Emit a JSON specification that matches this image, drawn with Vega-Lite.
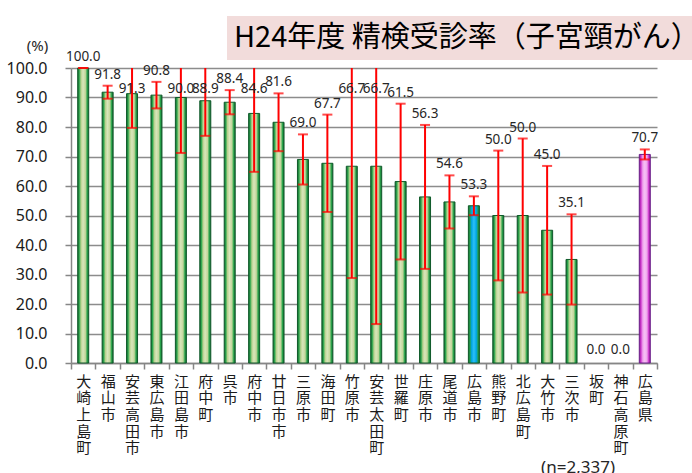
{
  "$schema": "https://vega.github.io/schema/vega-lite/v6.json",
  "autosize": {"type": "none"},
  "padding": {"left": 71, "top": 68, "right": 35, "bottom": 110},
  "width": 586,
  "height": 295,
  "background": "white",
  "title": {
    "text": "(n=2,337)",
    "orient": "bottom",
    "anchor": "end",
    "frame": "group",
    "baseline": "top",
    "offset": 4,
    "dx": -42,
    "font": "Noto Sans",
    "fontSize": 17,
    "fontWeight": "normal",
    "color": "#262626"
  },
  "config": {
    "view": {"stroke": null},
    "font": "Noto Sans",
    "axisY": {
      "tickCount": 10,
      "labelOverlap": false,
      "format": ".1f",
      "titleAngle": 0,
      "titleAlign": "center",
      "titleBaseline": "middle",
      "titleX": -34,
      "titleY": -23,
      "titleFont": "Noto Sans",
      "titleFontSize": 15,
      "titleFontWeight": "normal",
      "titleColor": "#262626",
      "labelFont": "Noto Sans",
      "labelFontSize": 16,
      "labelColor": "#1a1a1a",
      "labelPadding": 18,
      "tickSize": 6,
      "tickColor": "#868686",
      "tickWidth": 1.5,
      "domainColor": "#868686",
      "domainWidth": 1.5,
      "grid": true,
      "gridColor": "#8c8c8c",
      "gridWidth": 1.5
    }
  },
  "data": {
    "values": [
      {"name": "大崎上島町", "value": 100.0, "lo": 100.0, "hi": 100.0, "kind": "市町"},
      {"name": "福山市", "value": 91.8, "lo": 89.6, "hi": 94.0, "kind": "市町"},
      {"name": "安芸高田市", "value": 91.3, "lo": 79.7, "hi": 102.9, "kind": "市町"},
      {"name": "東広島市", "value": 90.8, "lo": 86.3, "hi": 95.3, "kind": "市町"},
      {"name": "江田島市", "value": 90.0, "lo": 71.2, "hi": 108.8, "kind": "市町"},
      {"name": "府中町", "value": 88.9, "lo": 77.0, "hi": 100.8, "kind": "市町"},
      {"name": "呉市", "value": 88.4, "lo": 84.3, "hi": 92.5, "kind": "市町"},
      {"name": "府中市", "value": 84.6, "lo": 64.8, "hi": 104.4, "kind": "市町"},
      {"name": "廿日市市", "value": 81.6, "lo": 71.8, "hi": 91.4, "kind": "市町"},
      {"name": "三原市", "value": 69.0, "lo": 60.5, "hi": 77.5, "kind": "市町"},
      {"name": "海田町", "value": 67.7, "lo": 51.2, "hi": 84.2, "kind": "市町"},
      {"name": "竹原市", "value": 66.7, "lo": 28.8, "hi": 104.6, "kind": "市町"},
      {"name": "安芸太田町", "value": 66.7, "lo": 13.2, "hi": 120.2, "kind": "市町"},
      {"name": "世羅町", "value": 61.5, "lo": 35.1, "hi": 87.9, "kind": "市町"},
      {"name": "庄原市", "value": 56.3, "lo": 31.9, "hi": 80.7, "kind": "市町"},
      {"name": "尾道市", "value": 54.6, "lo": 45.6, "hi": 63.6, "kind": "市町"},
      {"name": "広島市", "value": 53.3, "lo": 50.1, "hi": 56.5, "kind": "広島市"},
      {"name": "熊野町", "value": 50.0, "lo": 28.0, "hi": 72.0, "kind": "市町"},
      {"name": "北広島町", "value": 50.0, "lo": 23.9, "hi": 76.1, "kind": "市町"},
      {"name": "大竹市", "value": 45.0, "lo": 23.2, "hi": 66.8, "kind": "市町"},
      {"name": "三次市", "value": 35.1, "lo": 19.8, "hi": 50.4, "kind": "市町"},
      {"name": "坂町", "value": 0.0, "lo": null, "hi": null, "kind": "市町"},
      {"name": "神石高原町", "value": 0.0, "lo": null, "hi": null, "kind": "市町"},
      {"name": "広島県", "value": 70.7, "lo": 69.0, "hi": 72.4, "kind": "広島県"}
    ]
  },
  "encoding": {
    "x": {
      "field": "name",
      "type": "nominal",
      "sort": null,
      "scale": {"paddingInner": 0, "paddingOuter": 0},
      "axis": {
        "title": null,
        "labelAngle": 0,
        "labelAlign": "center",
        "labelBaseline": "top",
        "labelExpr": "split(datum.label, '')",
        "labelFont": "Noto Sans CJK JP",
        "labelFontSize": 15,
        "labelLineHeight": 16.7,
        "labelColor": "#1a1a1a",
        "labelPadding": 5,
        "labelLimit": 0,
        "labelOverlap": false,
        "labelFlush": false,
        "tickBand": "extent",
        "tickSize": 6,
        "tickColor": "#868686",
        "tickWidth": 1.5,
        "domainColor": "#868686",
        "domainWidth": 1.5,
        "grid": false
      }
    }
  },
  "layer": [
    {
      "mark": {"type": "bar", "width": 11, "strokeWidth": 1},
      "encoding": {
        "y": {
          "field": "value",
          "type": "quantitative",
          "scale": {"domain": [0, 100], "nice": false, "clamp": true},
          "axis": {"title": "(%)"}
        },
        "fill": {
          "condition": [
            {
              "test": "datum.kind === '広島市'",
              "value": {
                "gradient": "linear", "x1": 0, "x2": 1, "y1": 0, "y2": 0,
                "stops": [
                  {"offset": 0, "color": "#145c2c"},
                  {"offset": 0.14, "color": "#23a04a"},
                  {"offset": 0.3, "color": "#00a6e8"},
                  {"offset": 0.5, "color": "#2ec0f4"},
                  {"offset": 0.72, "color": "#00a6e8"},
                  {"offset": 0.88, "color": "#23a04a"},
                  {"offset": 1, "color": "#145c2c"}
                ]
              }
            },
            {
              "test": "datum.kind === '広島県'",
              "value": {
                "gradient": "linear", "x1": 0, "x2": 1, "y1": 0, "y2": 0,
                "stops": [
                  {"offset": 0, "color": "#8a1a8a"},
                  {"offset": 0.14, "color": "#cc33cc"},
                  {"offset": 0.32, "color": "#f0a4ee"},
                  {"offset": 0.5, "color": "#f6c2f4"},
                  {"offset": 0.7, "color": "#f0a4ee"},
                  {"offset": 0.86, "color": "#cc33cc"},
                  {"offset": 1, "color": "#8a1a8a"}
                ]
              }
            }
          ],
          "value": {
            "gradient": "linear", "x1": 0, "x2": 1, "y1": 0, "y2": 0,
            "stops": [
              {"offset": 0, "color": "#145c2c"},
              {"offset": 0.14, "color": "#2aa64c"},
              {"offset": 0.3, "color": "#b9d28f"},
              {"offset": 0.48, "color": "#d8e6bb"},
              {"offset": 0.7, "color": "#c3d69b"},
              {"offset": 0.86, "color": "#2aa64c"},
              {"offset": 1, "color": "#145c2c"}
            ]
          }
        },
        "stroke": {
          "condition": {"test": "datum.kind === '広島県'", "value": "#6a1f8a"},
          "value": "#0f5a2a"
        },
        "strokeOpacity": {
          "condition": {"test": "datum.value == 0", "value": 0},
          "value": 1
        }
      }
    },
    {
      "mark": {"type": "rule", "color": "#ff0000", "strokeWidth": 2},
      "encoding": {
        "y": {"field": "lo", "type": "quantitative"},
        "y2": {"field": "hi"}
      }
    },
    {
      "mark": {"type": "tick", "color": "#ff0000", "size": 10, "thickness": 2, "orient": "horizontal"},
      "encoding": {
        "y": {"field": "lo", "type": "quantitative"}
      }
    },
    {
      "transform": [{"filter": "datum.hi != null && datum.hi <= 100"}],
      "mark": {"type": "tick", "color": "#ff0000", "size": 10, "thickness": 2, "orient": "horizontal"},
      "encoding": {
        "y": {"field": "hi", "type": "quantitative"}
      }
    },
    {
      "transform": [{"filter": "datum.hi != null"}],
      "mark": {
        "type": "text",
        "font": "Noto Sans",
        "fontSize": 13.5,
        "color": "#262626",
        "baseline": "bottom",
        "dy": {"expr": "datum.hi > 100 ? 28 : -4"}
      },
      "encoding": {
        "y": {"field": "hi", "type": "quantitative"},
        "text": {"field": "value", "type": "quantitative", "format": ".1f"}
      }
    },
    {
      "transform": [{"filter": "datum.hi == null"}],
      "mark": {"type": "text", "font": "Noto Sans", "fontSize": 13.5, "color": "#262626", "baseline": "bottom", "dy": -6},
      "encoding": {
        "y": {"field": "value", "type": "quantitative"},
        "text": {"field": "value", "type": "quantitative", "format": ".1f"}
      }
    },
    {
      "data": {"values": [{"chartTitle": "H24年度 精検受診率（子宮頸がん）"}]},
      "mark": {"type": "point", "opacity": 0},
      "encoding": {
        "x": null,
        "shape": {
          "field": "chartTitle",
          "type": "nominal",
          "legend": {
            "title": "H24年度 精検受診率（子宮頸がん）",
            "titleOrient": "left",
            "titleFont": "Noto Sans CJK JP",
            "titleFontSize": 29,
            "titleFontWeight": "normal",
            "titleColor": "#000000",
            "titleLimit": 0,
            "titlePadding": 0,
            "titleBaseline": "top",
            "orient": "none",
            "legendX": 156,
            "legendY": -52,
            "fillColor": "#f2dcdb",
            "padding": 7,
            "labelExpr": "''",
            "labelFontSize": 1,
            "labelOffset": 0,
            "symbolType": "circle",
            "symbolSize": 1,
            "symbolOpacity": 0,
            "symbolStrokeWidth": 0
          }
        }
      }
    }
  ]
}
